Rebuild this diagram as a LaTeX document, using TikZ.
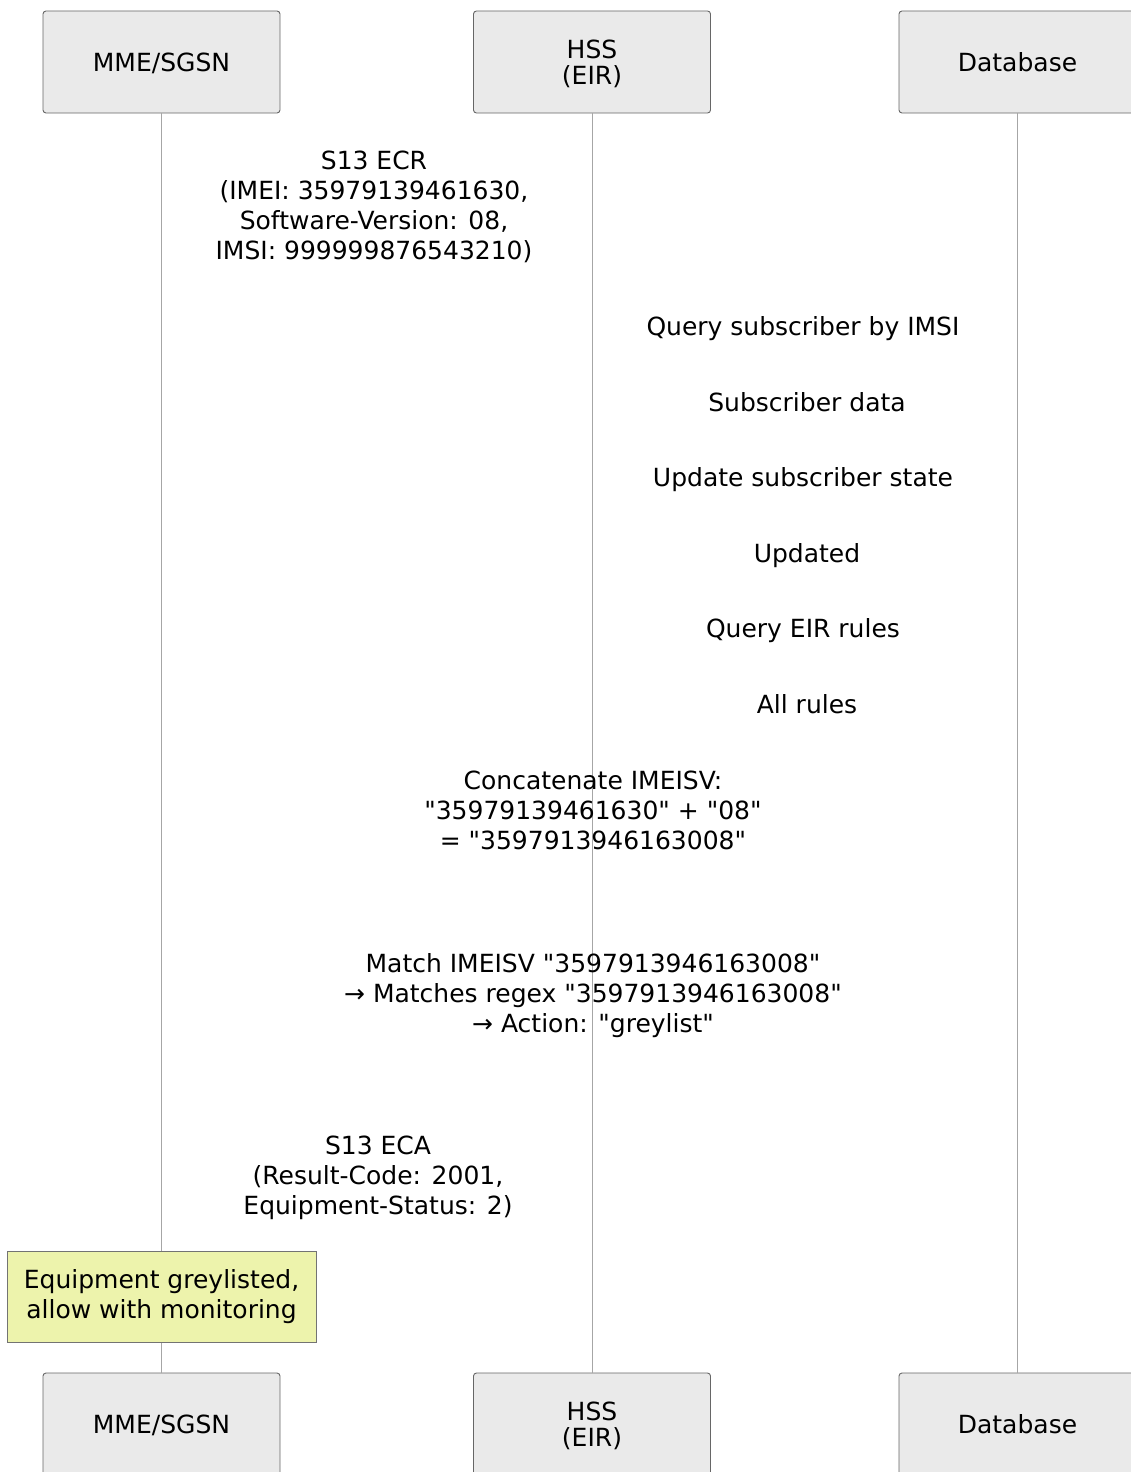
\documentclass[tikz,border=0pt]{standalone}
\usepackage{fontspec}
% plain family: keeps straight double quotes as typed
\newfontfamily\dv{DejaVu Sans}
\definecolor{notefill}{RGB}{237,243,172}
\definecolor{actorfill}{RGB}{234,234,234}
\begin{document}
\begin{tikzpicture}[x=1pt,y=-1pt,
  actor/.style={draw=black!60, fill=actorfill, rounded corners=3pt, line width=0.9pt,
    minimum width=237pt, minimum height=102pt, inner sep=0pt, align=center,
    font=\dv\fontsize{25}{26}\selectfont, text depth=0pt},
  life/.style={draw=black!35, line width=1pt},
  msg/.style={align=center, inner sep=0pt, font=\dv\fontsize{25}{30}\selectfont},
  notebox/.style={draw=black!55, fill=notefill, line width=0.9pt,
    minimum width=309pt, minimum height=91pt, inner sep=0pt, align=center,
    font=\dv\fontsize{25}{30}\selectfont}]
\useasboundingbox (0,0) rectangle (1130,1472);

% participants, top row
\node[actor] (mmeT) at (161.5,62) {MME/SGSN};
\node[actor] (hssT) at (592,62) {HSS\\(EIR)};
\node[actor] (dbT) at (1017.5,62) {Database};

% participants, bottom row
\node[actor] (mmeB) at (161.5,1424) {MME/SGSN};
\node[actor] (hssB) at (592,1424) {HSS\\(EIR)};
\node[actor] (dbB) at (1017.5,1424) {Database};

% lifelines
\draw[life] (mmeT.south) -- (mmeB.north);
\draw[life] (hssT.south) -- (hssB.north);
\draw[life] (dbT.south) -- (dbB.north);

% message labels
\node[msg] (ecr) at (374,207) {S13 ECR\\(IMEI: 35979139461630,\\Software-Version: 08,\\IMSI: 999999876543210)};
\node[msg] (q1) at (803,329) {Query subscriber by IMSI};
\node[msg] (r1) at (807,402) {Subscriber data};
\node[msg] (q2) at (803,480) {Update subscriber state};
\node[msg] (r2) at (807,556) {Updated};
\node[msg] (q3) at (803,631) {Query EIR rules};
\node[msg] (r3) at (807,704) {All rules};
\node[msg] (cat) at (593,810) {Concatenate IMEISV:\\"35979139461630" + "08"\\= "3597913946163008"};
\node[msg] (match) at (593,996) {Match IMEISV "3597913946163008"\\→ Matches regex "3597913946163008"\\→ Action: "greylist"};
\node[msg] (eca) at (378,1178) {S13 ECA\\(Result-Code: 2001,\\Equipment-Status: 2)};

% note on the MME/SGSN lifeline
\node[notebox] (note) at (161.5,1296.5) {Equipment greylisted,\\allow with monitoring};
\end{tikzpicture}
\end{document}
